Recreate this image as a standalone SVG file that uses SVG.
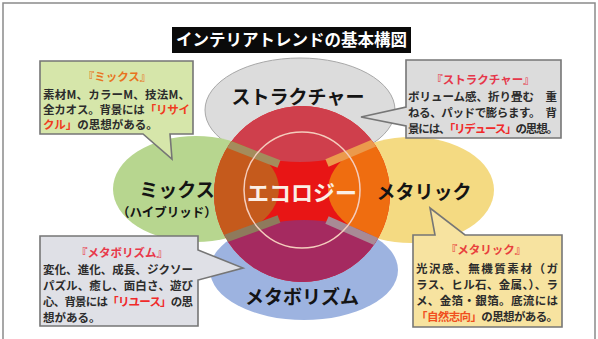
<svg xmlns="http://www.w3.org/2000/svg" width="598" height="339" viewBox="0 0 598 339">
<style>
.lbl{font-family:"Noto Sans CJK JP","Liberation Sans",sans-serif;font-weight:bold;fill:#141414;text-anchor:middle}
.big{font-size:19px}
.txt{font-family:"Noto Sans CJK JP","Liberation Sans",sans-serif;font-weight:bold;font-size:11.5px;fill:#2c2c2c}
.ttl{text-anchor:middle}
.box{stroke:#767676;stroke-width:1.6;stroke-linejoin:miter}
.band{stroke-width:8;fill:none}
</style>
<defs>
<clipPath id="cc"><circle cx="302" cy="194" r="88"/></clipPath>
</defs>
<rect x="3" y="3" width="592" height="345" fill="#ffffff" stroke="#8a8a8a" stroke-width="1.5"/>

<g id="title">
<rect x="172" y="27" width="239" height="26" fill="#0a0a0a"/>
<text x="291.5" y="46" font-family="'Noto Sans CJK JP','Liberation Sans',sans-serif" font-weight="bold" font-size="16.5" fill="#ffffff" text-anchor="middle">インテリアトレンドの基本構図</text>
</g>

<g id="node-structure">
<ellipse cx="300" cy="110" rx="95" ry="52" fill="#dcdcdc" stroke="#a8a8a8" stroke-width="1"/>
</g>
<g id="node-mix">
<ellipse cx="196" cy="189" rx="83" ry="53" fill="#b7d68f"/>
</g>
<g id="node-metallic">
<ellipse cx="411" cy="190" rx="83" ry="53" fill="#f4da82"/>
</g>
<g id="node-metabolism">
<ellipse cx="304" cy="270" rx="94" ry="50" fill="#9db3e0"/>
</g>

<g id="node-ecology">
<g clip-path="url(#cc)">
<rect x="200" y="100" width="210" height="200" fill="#e81515"/>
<ellipse cx="300" cy="110" rx="95" ry="52" fill="#cf3f4c"/>
<ellipse cx="196" cy="189" rx="83" ry="53" fill="#c55a1c"/>
<ellipse cx="411" cy="190" rx="83" ry="53" fill="#ef6d10"/>
<ellipse cx="304" cy="270" rx="94" ry="50" fill="#a52a60"/>
<line class="band" x1="279" y1="164" x2="200" y2="133" stroke="#a48c5c"/>
<line class="band" x1="327" y1="163" x2="400" y2="132" stroke="#eb9a4c"/>
<line class="band" x1="279" y1="219" x2="200" y2="248" stroke="#8e7a5c"/>
<line class="band" x1="327" y1="220" x2="400" y2="252" stroke="#a88a95"/>
</g>
<circle cx="302" cy="190" r="58" fill="none" stroke="#f4cdbd" stroke-width="1.5"/>
<text x="302" y="201" font-family="'Noto Sans CJK JP','Liberation Sans',sans-serif" font-weight="bold" font-size="22" fill="#fbefe6" text-anchor="middle">エコロジー</text>
</g>

<g id="labels">
<text class="lbl big" x="298" y="104">ストラクチャー</text>
<text class="lbl big" x="177" y="197">ミックス</text>
<text class="lbl" x="167" y="217" font-size="12.5">（ハイブリッド）</text>
<text class="lbl big" x="424" y="199">メタリック</text>
<text class="lbl big" x="302" y="304">メタボリズム</text>
</g>

<g id="callout-mix">
<path class="box" d="M40,61 H193 V134 H170 L172,159 L143,134 H40 Z" fill="#d6e6aa"/>
<text class="txt ttl" x="117" y="81" style="fill:#e8741e">『ミックス』</text>
<text class="txt" x="43" y="99" textLength="147" lengthAdjust="spacing">素材M、カラーM、技法M、</text>
<text class="txt" x="43" y="114" textLength="147" lengthAdjust="spacing">全カオス。背景には<tspan style="fill:#f03c1e">「リサイ</tspan></text>
<text class="txt" x="43" y="129"><tspan style="fill:#f03c1e">クル」</tspan>の思想がある。</text>
</g>

<g id="callout-structure">
<path class="box" d="M406,60 H561 V138 H406 V126 L361,117 L406,107 Z" fill="#dcdcdc"/>
<text class="txt ttl" x="483" y="84" style="fill:#e6374a">『ストラクチャー』</text>
<text class="txt" x="408" y="101" textLength="149" lengthAdjust="spacing">ボリューム感、折り畳む　重</text>
<text class="txt" x="408" y="117" textLength="149" lengthAdjust="spacing">ねる、パッドで膨らます。　背</text>
<text class="txt" x="408" y="133" textLength="150" lengthAdjust="spacing">景には、<tspan style="fill:#f02a2a">「リデュース」</tspan>の思想。</text>
</g>

<g id="callout-metabolism">
<path class="box" d="M40,236 H198 V250 L243,268 L198,280 V326 H40 Z" fill="#dfe0e6"/>
<text class="txt ttl" x="122" y="257" style="fill:#e8384a">『メタボリズム』</text>
<text class="txt" x="43" y="274" textLength="150" lengthAdjust="spacing">変化、進化、成長、ジクソー</text>
<text class="txt" x="43" y="290" textLength="150" lengthAdjust="spacing">パズル、癒し、面白さ、遊び</text>
<text class="txt" x="43" y="306" textLength="150" lengthAdjust="spacing">心、背景には<tspan style="fill:#f02a2a">「リユース」</tspan>の思</text>
<text class="txt" x="43" y="322">想がある。</text>
</g>

<g id="callout-metallic">
<path class="box" d="M413,235 H435 L430,208 L465,235 H562 V327 H413 Z" fill="#f7e3a0"/>
<text class="txt ttl" x="486" y="254" style="fill:#e8403c">『メタリック』</text>
<text class="txt" x="416" y="273" textLength="142" lengthAdjust="spacing">光沢感、無機質素材（ガ</text>
<text class="txt" x="416" y="289" textLength="142" lengthAdjust="spacing">ラス、ヒル石、金属、）、ラ</text>
<text class="txt" x="416" y="305" textLength="142" lengthAdjust="spacing">メ、金箔・銀箔。底流には</text>
<text class="txt" x="416" y="321" textLength="142" lengthAdjust="spacing"><tspan style="fill:#f0501e">「自然志向」</tspan>の思想がある。</text>
</g>
</svg>
